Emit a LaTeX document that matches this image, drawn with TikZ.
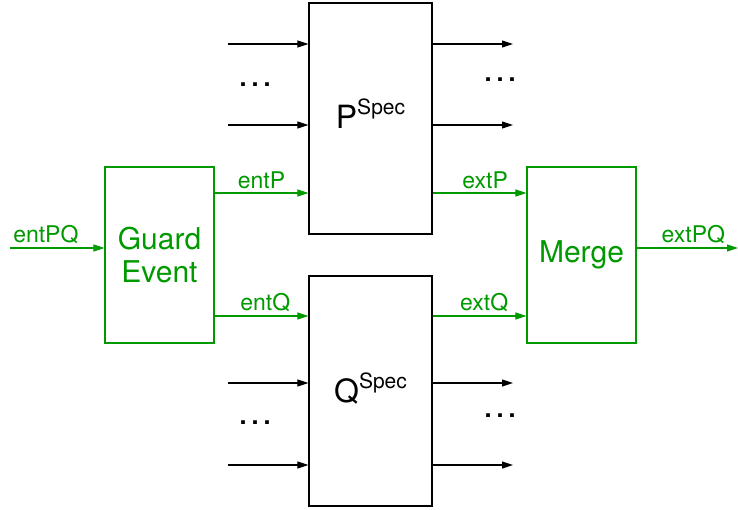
\documentclass[tikz,border=0pt]{standalone}
\usepackage{fontspec}
\setmainfont{TeX Gyre Heros}
\usetikzlibrary{arrows.meta,positioning,calc}
\definecolor{sigGreen}{HTML}{009900}

\begin{document}
\begin{tikzpicture}[
  x=1pt, y=-1pt,
  box/.style={draw, line width=1.3pt, inner sep=0pt, minimum width=123pt, minimum height=231pt},
  spec/.style={anchor=base, inner sep=0pt, font=\fontsize{32}{38}\selectfont},
  gbox/.style={draw=sigGreen, text=sigGreen, line width=1.3pt, align=center, minimum width=109pt, minimum height=176pt, font=\fontsize{30}{33}\selectfont},
  arr/.style={-{Triangle[length=11pt,width=7pt]}, line width=1.1pt},
  garr/.style={arr, draw=sigGreen},
  lbl/.style={above, inner sep=4pt, text=sigGreen, font=\fontsize{23}{26}\selectfont},
  dots/.style={anchor=base, inner sep=0pt, font=\fontsize{36}{36}\selectfont},
]
  \useasboundingbox (0,0) rectangle (738,509);

  % blocks
  \node[box] (pspec) at (370.5,118.5) {};
  \node[box, minimum height=230pt] (qspec) at (370.5,391) {};
  \node[spec] (plbl) at ([yshift=-10pt]pspec.center) {P\raisebox{14pt}{\fontsize{21}{21}\selectfont Spec}};
  \node[spec] (qlbl) at ([yshift=-11pt]qspec.center) {Q\raisebox{14pt}{\fontsize{21}{21}\selectfont Spec}};
  \node[gbox] (guard) at (159.5,255) {Guard\\Event};
  \node[gbox] (merge) at (581.5,255) {Merge};

  % free ends of the black ports
  \coordinate (pin1) at (228,44);
  \coordinate (pin2) at (228,125);
  \coordinate (pout1) at (513,44);
  \coordinate (pout2) at (513,125);
  \coordinate (qin1) at (228,383);
  \coordinate (qin2) at (228,465);
  \coordinate (qout1) at (513,383);
  \coordinate (qout2) at (513,465);

  \foreach \c in {pin1,pin2} \draw[arr] (\c) -- (\c -| pspec.west);
  \foreach \c in {pout1,pout2} \draw[arr] (\c -| pspec.east) -- (\c);
  \foreach \c in {qin1,qin2} \draw[arr] (\c) -- (\c -| qspec.west);
  \foreach \c in {qout1,qout2} \draw[arr] (\c -| qspec.east) -- (\c);

  \node[dots] (pdl) at (255,86) {\ldots};
  \node[dots] (pdr) at (500,81) {\ldots};
  \node[dots] (qdl) at (255,424) {\ldots};
  \node[dots] (qdr) at (500,417) {\ldots};

  % guarded composition signals
  \coordinate (entPQin) at (10,248);
  \coordinate (extPQout) at (738,248);
  \coordinate (rowP) at (0,193);
  \coordinate (rowQ) at (0,316);

  \draw[garr] (entPQin) -- (entPQin -| guard.west) node[lbl, pos=0.38] {entPQ};
  \draw[garr] (guard.east |- rowP) -- (pspec.west |- rowP) node[lbl, midway] {entP};
  \draw[garr] (guard.east |- rowQ) -- (qspec.west |- rowQ) node[lbl, pos=0.54] {entQ};
  \draw[garr] (pspec.east |- rowP) -- (merge.west |- rowP) node[lbl, pos=0.56] {extP};
  \draw[garr] (qspec.east |- rowQ) -- (merge.west |- rowQ) node[lbl, pos=0.55] {extQ};
  \draw[garr] (merge.east |- extPQout) -- (extPQout) node[lbl, pos=0.56] {extPQ};
\end{tikzpicture}
\end{document}
